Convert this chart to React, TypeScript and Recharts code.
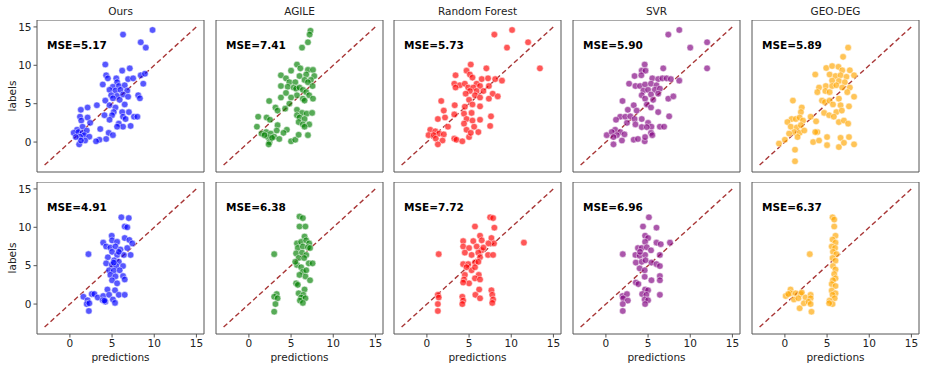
import React from 'react'
import { ScatterChart, Scatter, XAxis, YAxis, ReferenceLine, ReferenceArea } from 'recharts'

type Pt = [number, number]

const models = ['Ours', 'AGILE', 'Random Forest', 'SVR', 'GEO-DEG']
const colors = ['#0000ff', '#008000', '#ff0000', '#800080', '#ffa500']
const mseTop = ['5.17', '7.41', '5.73', '5.90', '5.89']
const mseBottom = ['4.91', '6.38', '7.72', '6.96', '6.37']
const axisTicks = [0, 5, 10, 15]

// top row
const oursTop: Pt[] = [[9.8,14.6],[6.3,14.0],[8.4,13.0],[9.0,12.3],[4.2,10.1],[7.1,9.6],[6.2,9.3],[4.3,8.7],[4.5,8.3],[5.5,8.3],[6.9,8.2],[7.5,8.3],[8.4,8.7],[8.9,8.9],[5.6,7.8],[3.9,7.5],[8.7,7.6],[5.1,7.2],[5.8,7.3],[6.5,7.4],[4.7,6.8],[5.4,6.7],[6.0,6.8],[6.8,6.7],[4.9,6.1],[5.6,6.0],[6.3,6.2],[5.1,5.7],[5.9,5.5],[6.9,5.9],[8.1,6.1],[8.3,5.7],[4.2,5.4],[3.2,4.8],[4.7,4.8],[5.4,4.5],[6.5,4.9],[5.2,3.9],[6.2,3.9],[7.0,3.9],[4.1,3.5],[5.0,3.5],[6.3,3.3],[7.6,3.3],[8.0,3.3],[4.7,2.9],[6.6,3.0],[5.8,2.4],[7.2,2.1],[6.3,2.0],[5.6,2.0],[3.6,1.7],[4.6,1.2],[5.1,0.9],[4.3,0.4],[3.5,0.3],[3.1,0.1],[1.3,4.2],[2.1,4.5],[1.2,3.3],[2.1,3.2],[1.35,2.8],[2.4,2.5],[1.5,2.0],[0.85,1.6],[0.45,1.2],[1.0,1.3],[1.5,1.2],[2.0,1.5],[1.7,0.9],[1.2,0.7],[2.3,0.7],[1.8,0.2],[1.1,-0.3],[1.3,0.2],[0.7,0.65]]
const agileTop: Pt[] = [[7.3,14.5],[7.2,14.0],[7.0,13.0],[6.3,12.3],[5.7,10.1],[6.1,9.6],[5.0,9.3],[7.0,9.4],[7.6,9.4],[3.8,8.7],[4.4,8.3],[6.8,8.8],[6.0,8.6],[7.75,8.6],[6.6,8.1],[7.35,8.1],[4.8,7.8],[5.5,7.8],[7.0,7.8],[3.8,7.3],[4.6,7.2],[5.3,7.1],[5.6,6.95],[6.0,7.1],[6.4,6.8],[7.55,7.3],[6.8,6.5],[4.4,6.4],[5.7,6.1],[7.15,6.1],[3.8,5.8],[5.0,5.8],[6.4,5.65],[6.6,5.4],[7.6,5.65],[2.4,5.35],[4.8,5.0],[3.15,4.5],[4.3,4.35],[3.4,4.1],[5.7,4.2],[6.3,3.8],[6.85,3.7],[5.7,3.5],[7.5,3.8],[1.1,3.3],[2.1,3.2],[2.5,2.9],[6.0,3.2],[6.6,3.0],[5.9,2.6],[6.4,2.3],[7.15,2.3],[0.95,2.0],[6.6,2.0],[3.4,2.2],[2.05,1.3],[1.5,1.1],[2.6,1.1],[3.0,0.7],[4.5,1.6],[4.1,1.2],[3.3,1.5],[2.25,0.65],[3.6,0.4],[5.0,0.1],[5.5,0.3],[5.9,0.95],[7.0,0.9],[2.45,0.0],[2.35,-0.3],[2.75,0.55],[1.85,0.9]]
const rfTop: Pt[] = [[10.1,14.6],[8.0,14.0],[12.0,13.0],[9.5,12.3],[13.4,9.6],[5.2,10.1],[4.7,9.3],[7.05,9.6],[3.4,8.7],[5.1,8.8],[5.4,8.4],[6.5,8.2],[7.25,8.3],[8.1,8.2],[8.9,8.0],[3.25,7.6],[3.9,7.4],[4.5,7.6],[5.9,7.6],[3.4,7.1],[4.9,7.1],[5.5,7.1],[6.3,7.3],[7.35,7.3],[5.1,6.65],[5.9,6.65],[6.7,6.65],[4.6,6.3],[5.7,6.1],[7.8,6.3],[8.4,5.95],[6.3,5.8],[7.35,5.65],[5.0,5.5],[1.7,5.35],[3.3,4.8],[5.4,4.9],[6.3,4.65],[2.0,4.1],[4.5,4.6],[3.25,3.6],[5.3,3.8],[4.4,3.7],[7.6,3.35],[1.3,3.0],[2.15,3.2],[4.7,3.0],[6.3,2.9],[5.4,2.8],[4.4,2.4],[7.5,2.1],[5.6,2.0],[4.7,1.6],[6.1,1.3],[0.4,1.6],[1.0,1.4],[1.45,1.1],[0.2,0.9],[0.8,0.9],[2.0,1.0],[1.05,0.45],[1.85,0.2],[1.3,-0.3],[3.25,0.45],[3.5,0.3],[4.2,0.1],[5.0,0.65],[5.2,1.2],[2.5,2.0]]
const svrTop: Pt[] = [[8.7,14.6],[7.4,14.0],[12.0,13.0],[10.0,12.3],[12.0,9.6],[4.6,10.1],[6.8,9.6],[4.25,9.3],[4.7,9.3],[3.4,8.6],[4.2,8.7],[5.5,8.3],[6.2,8.2],[6.7,8.3],[7.2,8.3],[7.7,8.2],[2.75,7.6],[3.5,7.3],[4.05,7.3],[4.65,7.5],[5.35,7.6],[6.0,7.4],[8.7,8.0],[4.45,6.7],[5.0,6.8],[5.8,6.8],[6.4,6.95],[4.25,6.1],[5.35,6.2],[6.2,6.3],[7.4,5.65],[8.0,5.95],[4.65,5.65],[5.6,5.5],[1.97,5.35],[3.3,4.8],[4.85,4.9],[5.35,4.5],[2.6,4.2],[3.65,4.1],[6.2,3.9],[1.7,3.3],[2.3,3.3],[2.9,3.35],[1.2,2.9],[4.25,3.0],[3.4,3.0],[7.5,3.35],[2.5,2.5],[3.5,2.3],[5.0,2.5],[5.4,2.0],[6.4,2.0],[6.9,2.0],[4.25,1.95],[4.85,1.95],[1.1,1.6],[1.7,1.3],[0.1,0.9],[0.7,1.3],[1.3,0.9],[0.9,0.65],[2.2,1.0],[1.9,0.2],[0.9,-0.3],[3.3,0.3],[3.8,0.4],[4.6,0.1],[4.65,0.65],[5.35,1.2],[5.5,0.9]]
const geoTop: Pt[] = [[7.5,12.3],[6.9,11.1],[4.9,9.65],[5.6,9.9],[6.35,9.8],[6.8,9.35],[7.7,9.35],[3.6,8.8],[5.3,8.8],[6.0,8.6],[6.6,8.7],[7.3,8.5],[8.2,8.7],[5.6,8.0],[6.4,7.95],[7.1,7.8],[4.05,7.1],[4.85,7.3],[5.6,7.3],[6.1,7.4],[6.8,7.1],[7.7,7.1],[3.85,6.5],[4.8,6.65],[5.3,6.5],[7.4,6.5],[8.2,5.9],[4.4,5.4],[4.75,5.2],[5.3,5.4],[5.7,4.9],[6.4,5.65],[6.6,4.8],[7.6,4.65],[0.95,5.4],[2.0,4.5],[1.9,3.9],[6.1,3.9],[6.75,4.1],[4.65,3.8],[5.25,3.5],[5.8,3.3],[3.05,3.3],[0.8,3.0],[1.3,3.0],[1.75,3.2],[2.15,2.8],[3.7,2.7],[6.4,2.6],[7.0,2.8],[7.5,2.4],[0.3,2.6],[0.7,2.0],[1.4,1.9],[1.9,2.2],[1.1,1.3],[1.75,1.2],[2.3,1.5],[0.5,1.1],[1.5,0.65],[0.0,0.3],[-0.7,-0.2],[3.85,1.3],[3.35,0.0],[4.05,0.2],[5.0,0.65],[6.6,0.55],[7.6,0.65],[8.2,-0.3],[6.4,-0.65],[7.0,-0.1],[5.0,-0.4],[1.2,-1.0],[1.2,-2.5],[3.6,1.3]]

// bottom row
const oursBottom: Pt[] = [[6.1,11.3],[6.98,11.2],[6.5,10.1],[6.8,10.0],[4.96,8.9],[3.95,8.0],[5.0,8.3],[5.6,8.1],[6.5,8.6],[7.05,8.35],[7.4,7.9],[4.3,7.5],[4.8,7.35],[5.4,7.5],[6.0,7.1],[6.8,7.3],[7.2,6.4],[6.4,6.4],[5.0,6.8],[5.6,6.4],[4.5,6.1],[5.25,5.7],[5.8,5.5],[4.3,5.3],[4.96,5.1],[5.5,4.95],[6.3,4.95],[2.2,6.5],[4.65,4.4],[5.2,4.35],[5.9,4.4],[4.8,3.8],[5.4,3.6],[6.3,3.65],[6.5,3.2],[5.0,3.1],[5.6,2.7],[4.45,1.9],[5.35,1.8],[5.8,1.2],[6.5,1.2],[1.6,0.95],[2.6,1.3],[2.9,1.3],[3.3,0.85],[3.95,1.05],[4.65,1.2],[2.1,0.5],[3.9,0.5],[4.2,0.3],[5.1,0.6],[5.35,0.15],[2.0,0.0],[2.3,0.1],[2.25,-0.9],[4.1,0.45],[5.2,5.4],[5.8,6.8]]
const agileBottom: Pt[] = [[6.0,11.4],[6.4,11.2],[6.0,10.1],[6.7,10.1],[6.6,8.8],[5.7,7.9],[6.2,8.1],[6.8,8.3],[7.15,7.9],[5.8,7.3],[6.4,7.5],[7.0,7.4],[7.25,7.3],[5.6,6.6],[6.3,6.7],[6.8,6.4],[5.9,6.0],[6.55,6.0],[7.1,5.3],[7.55,5.3],[5.7,5.1],[6.2,4.8],[6.4,4.2],[6.7,3.6],[6.0,3.8],[7.25,3.1],[5.6,2.7],[5.8,2.5],[6.6,1.9],[5.9,1.4],[6.45,1.2],[6.2,0.85],[6.7,0.75],[6.05,0.45],[6.4,0.15],[3.0,6.5],[3.3,1.3],[3.0,0.95],[3.4,0.75],[3.15,0.0],[3.0,-1.0],[5.5,5.5],[6.8,4.4]]
const rfBottom: Pt[] = [[7.5,11.3],[7.85,11.2],[5.7,10.1],[8.0,9.95],[6.3,8.9],[4.3,8.2],[5.5,8.2],[6.5,8.3],[7.65,8.6],[7.95,7.9],[7.3,7.9],[11.5,8.0],[1.4,6.5],[4.3,7.5],[5.0,7.3],[5.9,7.5],[6.5,7.0],[6.7,7.35],[4.5,6.7],[5.3,6.4],[6.1,6.7],[6.3,6.1],[7.25,6.4],[7.85,6.4],[4.3,5.2],[4.9,5.2],[5.7,5.4],[6.1,5.5],[5.3,4.4],[4.5,3.8],[6.15,3.8],[5.7,3.35],[6.3,3.2],[4.4,3.2],[5.0,2.7],[4.3,2.8],[6.2,1.9],[7.65,1.8],[5.75,1.2],[6.3,0.75],[7.75,1.2],[7.85,0.6],[7.75,0.15],[4.2,0.95],[4.3,0.45],[4.2,0.0],[1.3,1.2],[1.4,0.85],[1.3,0.0],[1.3,-0.9],[4.7,4.8],[5.7,4.8]]
const svrBottom: Pt[] = [[5.1,11.3],[4.4,10.1],[6.0,9.95],[4.65,8.9],[5.0,8.6],[4.65,8.1],[6.0,8.0],[6.5,7.8],[7.6,8.0],[3.8,7.3],[4.25,7.3],[4.85,7.4],[5.35,7.0],[2.0,6.5],[3.5,6.4],[4.0,6.3],[4.65,6.4],[6.4,6.4],[3.55,5.4],[4.25,5.5],[4.7,5.7],[5.4,5.4],[6.0,5.2],[6.4,4.95],[4.0,4.65],[4.6,4.4],[6.4,3.65],[6.4,3.1],[5.4,3.1],[4.6,3.55],[3.55,2.8],[3.85,2.6],[4.65,1.9],[5.0,1.8],[6.4,1.2],[4.3,1.3],[4.8,1.2],[4.6,0.6],[5.0,0.5],[4.65,0.0],[1.97,1.05],[2.5,1.3],[2.05,0.75],[2.6,0.45],[2.0,0.0],[2.0,-0.9],[4.05,6.8]]
const geoBottom: Pt[] = [[5.65,11.3],[5.85,11.0],[5.85,10.1],[6.0,8.9],[5.65,8.4],[6.0,8.0],[5.55,7.5],[5.95,7.3],[5.7,6.8],[6.1,6.5],[2.95,6.5],[5.65,6.0],[6.0,5.65],[5.7,4.95],[6.0,4.5],[5.85,3.9],[6.0,3.35],[5.7,3.1],[5.55,2.6],[6.0,2.35],[5.55,1.75],[6.0,1.4],[5.65,1.2],[5.9,0.75],[5.3,0.45],[5.65,0.0],[5.25,0.1],[0.67,1.9],[0.67,1.4],[1.27,1.4],[1.87,1.3],[2.0,1.5],[1.07,0.6],[1.6,0.75],[2.45,0.85],[3.05,1.2],[3.05,0.75],[1.75,-0.55],[2.25,0.1],[2.8,0.3],[3.05,0.0],[3.15,-1.0],[0.1,1.05],[0.4,1.3]]

const rows: Pt[][][] = [
  [oursTop, agileTop, rfTop, svrTop, geoTop],
  [oursBottom, agileBottom, rfBottom, svrBottom, geoBottom],
]

const FONT = '"DejaVu Sans", sans-serif'
const DOMAIN: [number, number] = [-3.9, 15.9]
const colLeft = [37, 216, 394, 573, 752]
const rowTop = [20, 182]
const PW = 167
const PH = 152
const YW = 30

function Panel({ pts, color, row, col }: { pts: Pt[]; color: string; row: number; col: number }) {
  const data = pts.map(([x, y]) => ({ x, y }))
  const tickStyle = { fontSize: 10.5, fill: '#222', fontFamily: FONT }
  return (
    <div style={{ position: 'absolute', left: colLeft[col] - YW, top: rowTop[row] }}>
      <ScatterChart width={YW + PW + 2} height={PH + 30} margin={{ top: 0, right: 2, bottom: 0, left: 0 }}>
        <XAxis
          type="number"
          dataKey="x"
          domain={DOMAIN}
          ticks={axisTicks}
          interval={0}
          allowDataOverflow
          axisLine={false}
          tickLine={{ stroke: '#555' }}
          tickSize={3.5}
          tick={row === 1 ? tickStyle : false}
          height={30}
        />
        <YAxis
          type="number"
          dataKey="y"
          domain={DOMAIN}
          ticks={axisTicks}
          interval={0}
          allowDataOverflow
          axisLine={false}
          tickLine={{ stroke: '#555' }}
          tickSize={3.5}
          tick={col === 0 ? tickStyle : false}
          width={YW}
        />
        <ReferenceArea x1={-3.9} x2={15.9} y1={-3.9} y2={15.9} fill="none" stroke="#555" strokeWidth={1} />
        <Scatter
          data={data}
          isAnimationActive={false}
          shape={(p: any) => (
            <circle cx={p.cx} cy={p.cy} r={3.3} fill={color} fillOpacity={0.66} stroke="#fff" strokeWidth={0.5} />
          )}
        />
        <ReferenceLine
          segment={[{ x: -3, y: -3 }, { x: 15, y: 15 }]}
          stroke="#a83636"
          strokeWidth={1.4}
          strokeDasharray="5 3"
        />
      </ScatterChart>
    </div>
  )
}

export default function App() {
  return (
    <div style={{ position: 'absolute', left: 0, top: 0, width: 926, height: 370, background: '#fff', fontFamily: FONT, color: '#222' }}>
      {rows.map((r, ri) =>
        r.map((pts, ci) => <Panel key={`${ri}-${ci}`} pts={pts} color={colors[ci]} row={ri} col={ci} />)
      )}
      {models.map((m, i) => (
        <div key={m} style={{ position: 'absolute', left: colLeft[i], width: PW, top: 5, textAlign: 'center', fontSize: 10.5 }}>
          {m}
        </div>
      ))}
      {[mseTop, mseBottom].map((arr, ri) =>
        arr.map((v, ci) => (
          <div
            key={`mse-${ri}-${ci}`}
            style={{ position: 'absolute', left: colLeft[ci] + 10, top: rowTop[ri] + 19, fontSize: 10.5, fontWeight: 'bold', color: '#000' }}
          >
            MSE={v}
          </div>
        ))
      )}
      {rowTop.map((t, ri) => (
        <div
          key={`yl-${ri}`}
          style={{ position: 'absolute', left: 12, top: t + PH / 2, transform: 'translate(-50%, -50%) rotate(-90deg)', fontSize: 10.5, whiteSpace: 'nowrap' }}
        >
          labels
        </div>
      ))}
      {colLeft.map((l, ci) => (
        <div key={`xl-${ci}`} style={{ position: 'absolute', left: l, width: PW, top: 351, textAlign: 'center', fontSize: 10.5 }}>
          predictions
        </div>
      ))}
    </div>
  )
}
